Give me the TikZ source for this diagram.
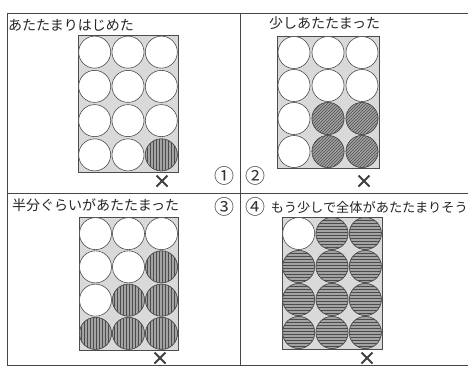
\documentclass[tikz,border=0pt]{standalone}
\usepackage{fontspec}
\newfontfamily\jp{Noto Sans CJK JP}
\usetikzlibrary{patterns}
\tikzset{
  frame/.style={draw=gray!55!black, line width=0.9pt},
  gridbox/.style={draw=gray!60!black, line width=0.6pt, fill=gray!30},
  cold/.style={circle, draw=gray!60!black, line width=0.6pt, fill=white, minimum size=32pt, inner sep=0pt},
  hot/.style={circle, draw=gray!60!black, line width=0.6pt, fill=gray!72, minimum size=32pt, inner sep=0pt,
     postaction={pattern=#1, pattern color=black!70}},
  hot/.default={vertical lines},
  title/.style={anchor=west, inner sep=0pt, text=black!85, font=\jp\fontsize{14}{14}\selectfont},
  num/.style={inner sep=0pt, text=black!80, font=\jp\fontsize{20}{20}\selectfont},
  xmk/.style={draw=black!75, line width=1.8pt},
}
\newcommand\panelgrid[5]{%
  \draw[gridbox] (#2,#3) rectangle (#4,#5);
  \foreach \r in {1,...,4}{\foreach \c in {1,2,3}{%
    \node[cold] (#1-\r-\c) at ({#2+(\c-0.5)*(#4-#2)/3},{#3+(\r-0.5)*(#5-#3)/4}) {};}}}
\newcommand\xmark[2]{%
  \draw[xmk] (#1-5.5,#2-5.5) -- (#1+5.5,#2+5.5) (#1-5.5,#2+5.5) -- (#1+5.5,#2-5.5);}
\begin{document}
\begin{tikzpicture}[x=1pt,y=-1pt]
\useasboundingbox[fill=white] (0,0) rectangle (468,368);
% frame
\draw[frame] (468,13) -- (7,13) -- (7,365) -- (468,365);
\draw[frame] (240,13) -- (240,365);
\draw[frame] (7,193) -- (468,193);
% panel 1
\node[title] (t1) at (8,25) {あたたまりはじめた};
\panelgrid{p1}{78}{35}{178}{172}
\foreach \r/\c in {4/3} \node[hot] (h1-\r-\c) at (p1-\r-\c) {};
\xmark{162}{181}
\node[num] (n1) at (224,176) {①};
% panel 2
\node[title] (t2) at (269,23) {少しあたたまった};
\panelgrid{p2}{277}{36}{379}{168}
\foreach \r/\c in {3/2,3/3,4/2,4/3} \node[hot=north east lines] (h2-\r-\c) at (p2-\r-\c) {};
\xmark{364}{181}
\node[num] (n2) at (255,176) {②};
% panel 3
\node[title] (t3) at (12,205) {半分ぐらいがあたたまった};
\panelgrid{p3}{79}{217}{178}{350}
\foreach \r/\c in {2/3,3/2,3/3,4/1,4/2,4/3} \node[hot] (h3-\r-\c) at (p3-\r-\c) {};
\xmark{160}{358}
\node[num] (n3) at (224,207) {③};
% panel 4
\node[title, anchor=east, font=\jp\fontsize{13.2}{14}\selectfont] (t4) at (468,207) {もう少しで全体があたたまりそう};
\panelgrid{p4}{282}{217}{382}{349}
\foreach \r/\c in {1/2,1/3,2/1,2/2,2/3,3/1,3/2,3/3,4/1,4/2,4/3} \node[hot=horizontal lines] (h4-\r-\c) at (p4-\r-\c) {};
\xmark{367}{358}
\node[num] (n4) at (255,207) {④};
\end{tikzpicture}
\end{document}
